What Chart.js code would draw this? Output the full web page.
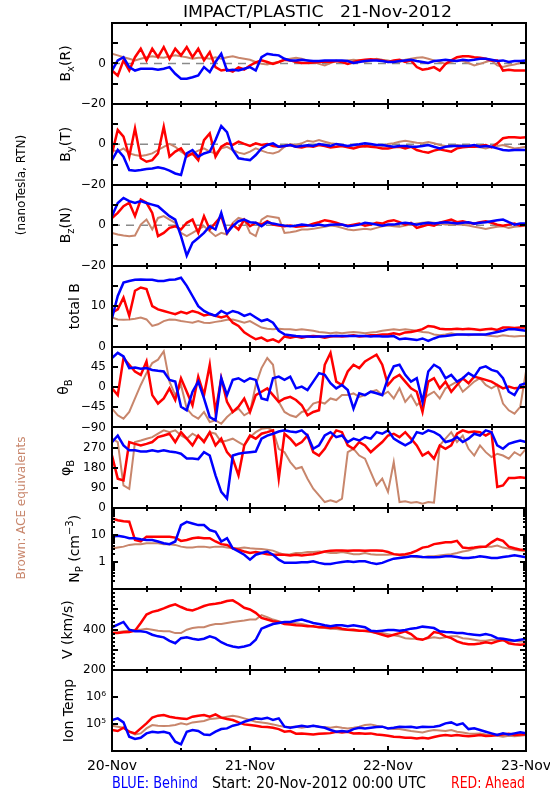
<!DOCTYPE html>
<html><head><meta charset="utf-8">
<script src="https://cdn.jsdelivr.net/npm/chart.js@4.4.1/dist/chart.umd.min.js"></script>
<style>html,body{margin:0;padding:0;background:#fff;}canvas{display:block;}</style>
</head><body>
<canvas id="c" width="550" height="800"></canvas>
<script>
// ---------- time axis (hours since 20-Nov-2012 00:00 UTC) ----------
const hours = [0,1,2,3,4,5,6,7,8,9,10,11,12,13,14,15,16,17,18,19,20,21,22,23,24,25,26,27,28,29,30,31,32,33,34,35,36,37,38,39,40,41,42,43,44,45,46,47,48,49,50,51,52,53,54,55,56,57,58,59,60,61,62,63,64,65,66,67,68,69,70,71,72];
const dayTicks = [0,24,48,72];
const dayLabels = ['20-Nov','21-Nov','22-Nov','23-Nov'];

// ---------- tick labels ----------
const bTickValues = [-20,-10,0,10,20];     const bTickLabels = ['\u221220','','0','',''];
const btTickValues = [0,5,10,15,20];       const btTickLabels = ['0','','10','',''];
const thTickValues = [-90,-45,0,45,90];    const thTickLabels = ['\u221290','\u221245','0','45',''];
const phTickValues = [0,90,180,270,360];   const phTickLabels = ['0','90','180','270',''];
const npTickValues = [0.1,1,10,100];       const npTickLabels = ['','1','10',''];
const vTickValues = [200,300,400,500,600]; const vTickLabels = ['200','','400','',''];
const tTickValues = [1e4,1e5,1e6,1e7];     const tTickLabels = ['','10\u2075','10\u2076',''];

// ---------- Bx (R) nT ----------
const bxBlue = [-3.5,1.5,3.1,-1.8,-3.5,-2.6,-2.6,-2.6,-3.1,-2.6,
 -1.8,-5.1,-7.6,-7.6,-6.8,-5.9,-1.8,-4.3,0.7,4.8,
 -3.5,-3.1,-3.5,-2.6,-1.8,-3.5,3.1,4.8,4.3,4.0,
 2.3,1.5,1.5,1.8,1.5,1.2,1.2,1.5,1.5,1.5,
 1.5,1.2,0.2,0.7,1.2,1.5,1.5,1.2,0.7,0.7,
 1.2,1.5,1.8,1.2,0.7,0.2,1.2,1.5,1.8,1.5,
 1.2,1.8,1.5,1.8,2.3,2.3,1.8,1.2,1.5,0.7,
 1.2,1.2,1.5];
const bxRed = [-3.5,-6.0,1.5,-3.5,3.1,7.3,1.5,7.3,3.1,8.1,
 2.3,7.3,4.0,8.1,3.1,7.3,1.5,5.6,-1.8,-3.5,
 -3.0,-4.0,-2.0,-3.0,-1.0,0.5,1.5,0.7,-0.2,0.7,
 1.8,1.5,0.7,0.2,0.2,0.5,0.7,1.0,0.7,1.2,
 0.7,-0.2,0.7,1.5,1.8,2.1,1.8,1.5,0.7,1.5,
 1.8,0.7,1.5,-1.8,-3.1,-2.6,-1.8,-3.5,-0.2,1.5,
 3.1,3.5,3.5,3.1,2.8,2.3,1.5,1.5,-3.5,-3.1,
 -3.5,-3.5,-3.5];
const bxBrown = [4.8,4.0,3.1,2.3,1.5,2.3,3.1,3.5,3.1,2.8,
 3.5,4.0,3.5,3.1,2.3,2.8,2.8,2.3,3.1,2.3,
 3.1,3.5,2.8,2.3,1.8,0.7,-0.2,-0.5,0.2,0.7,
 1.8,2.3,2.8,2.3,1.5,0.7,-0.2,-1.0,0.2,1.2,
 1.2,1.5,1.8,1.5,0.7,1.2,2.3,1.8,1.5,0.7,
 0.7,1.8,2.3,2.8,3.1,2.3,1.5,0.7,-0.2,0.7,
 1.5,1.2,0.2,-1.0,-0.2,0.7,1.5,-1.0,-1.8,-1.0,
 -0.5,0.2,0.2];

// ---------- By (T) nT ----------
const byBlue = [-7.8,-2.8,-6.1,-12.7,-13.0,-12.7,-12.2,-11.9,-11.4,-11.9,
 -13.0,-14.4,-15.2,-4.5,-2.8,-6.1,-4.5,-3.6,2.1,9.0,
 6.0,-2.8,-6.9,-7.4,-7.8,-5.3,-2.0,-0.3,0.5,-1.2,
 -0.8,-0.3,-1.2,-0.8,-0.5,-0.8,0.2,-0.3,-0.8,0.2,
 -0.3,-0.8,-0.3,0,0.5,0.2,-0.3,-0.3,-0.8,-1.2,
 -0.8,-0.8,-1.2,-1.2,-0.8,-0.3,-1.2,-2.0,-1.2,-0.8,
 -0.8,-0.8,-0.8,-0.3,-1.2,-0.8,-1.2,-2.0,-2.8,-3.1,
 -2.8,-2.8,-2.8];
const byRed = [-4.5,7.1,3.8,-6.1,7.9,-6.9,-8.6,-7.8,-4.5,8.7,
 -6.1,-3.6,-2.0,-6.1,-4.5,-7.8,2.1,5.4,-6.1,-1.2,
 0.5,-0.3,1.3,0.2,-0.8,0.5,-0.3,0.2,-0.8,-1.2,
 -0.8,-0.3,-1.2,-1.5,-0.8,-1.2,-0.3,-0.8,-1.5,-1.2,
 -0.8,-1.5,-2.0,-1.2,-0.8,-1.2,-1.5,-2.0,-2.0,-1.5,
 -1.2,-2.0,-1.2,-2.8,-3.6,-4.1,-3.1,-2.5,-3.1,-3.6,
 -2.0,-1.5,-1.2,-1.2,-0.8,-0.3,-1.5,0.5,3.0,3.5,
 3.5,3.3,3.5];
const byBrown = [-2.8,-3.6,-2.0,-4.5,-5.3,-5.8,-5.3,-4.5,-2.8,-1.2,
 0.2,-1.2,-3.6,-5.3,-4.5,-3.1,-2.0,-3.6,-4.5,-2.0,
 -1.2,-2.8,-4.1,-4.8,-3.6,-2.0,-3.1,-4.1,-4.5,-3.6,
 -1.2,0.2,-0.3,0.5,1.8,1.3,2.1,1.3,0.5,0.2,
 -0.8,-1.2,-0.5,-0.8,-1.2,-0.5,-0.3,-0.8,0.2,0.5,
 1.3,1.8,1.3,0.8,0.5,1.2,0.5,-0.3,-0.8,-1.2,
 -0.3,-0.8,-0.3,-1.2,-1.5,-2.0,-1.2,-0.8,-0.3,-1.2,
 -2.0,-1.7,-1.2];

// ---------- Bz (N) nT ----------
const bzBlue = [4.5,11.0,13.5,11.9,11.0,11.9,11.0,10.2,9.4,6.9,
 4.5,2.8,-5.4,-15.0,-8.7,-6.3,-3.8,-0.5,-2.1,6.1,
 -3.8,-0.5,2.0,2.8,1.5,1.2,-0.5,1.5,0.8,0.3,
 -0.2,-0.5,-0.2,0.3,0,-0.2,0.3,-0.2,0.2,0.3,
 0.3,-0.5,-0.2,0.3,1.2,0.8,0.3,-0.2,0.3,0.3,
 0.8,1.2,0.8,0.3,0.8,1.2,0.8,1.2,1.5,1.2,
 0.8,1.2,1.5,0.8,1.2,1.5,2.0,2.5,2.8,1.5,
 0.3,0.8,0.8];
const bzRed = [3.6,6.1,9.4,11.1,4.5,12.7,11.1,6.1,-5.4,-3.8,
 -1.3,-0.5,-2.1,1.2,2.8,-3.8,4.5,-2.1,1.2,4.5,
 -3.8,0.3,-2.1,2.8,-0.5,1.2,0.3,2.0,0.3,-0.2,
 -0.5,-0.2,-0.8,-0.5,-0.2,0.8,1.5,2.5,2.0,1.2,
 0.3,-0.2,0.3,0.8,-0.2,0.3,1.2,0.8,2.0,2.5,
 1.5,0.3,1.2,-1.3,-0.5,0.3,-0.2,1.2,2.0,2.8,
 1.5,2.0,1.2,0.8,1.5,2.0,1.2,0.3,-0.2,0.3,
 0.8,-0.2,0.3];
const bzBrown = [-3.8,-4.6,-5.1,-5.4,-5.1,0.3,2.8,-2.1,3.6,4.5,
 2.8,1.2,-3.8,-5.4,-3.8,-2.1,-0.5,-3.0,-5.4,-3.8,
 -4.6,1.2,3.6,2.8,-3.8,-5.4,2.8,4.5,4.1,3.6,
 -3.8,-3.5,-3.0,-2.1,-2.1,-1.8,-1.3,-0.8,-0.2,-0.5,
 -1.3,-2.1,-2.5,-2.1,-1.8,-2.1,-1.3,-0.5,-0.2,-0.5,
 -0.8,-0.2,0.3,0.8,1.2,1.5,1.2,0.8,0.3,0.5,
 0.3,0.2,-0.2,-0.8,-1.3,-1.8,-1.3,-0.8,-0.5,-1.3,
 -0.8,-0.5,-0.2];

// ---------- total B nT ----------
const btBlue = [7.0,12.5,15.8,16.2,16.5,16.6,16.5,16.5,16.2,16.2,
 16.5,16.6,17.0,15.0,12.5,10.0,8.8,8.1,7.6,8.8,
 8.1,8.8,8.4,7.6,8.1,7.2,6.3,6.7,5.9,3.9,
 3.0,2.8,2.6,2.5,2.5,2.4,2.5,2.5,2.6,2.6,
 2.6,2.6,2.6,2.6,2.6,2.5,2.6,2.5,2.5,2.6,
 1.8,2.0,1.8,1.6,2.0,1.4,2.0,2.5,2.6,2.8,
 3.0,3.0,3.0,3.0,3.0,3.0,3.3,3.6,3.9,4.3,
 4.3,4.1,3.9];
const btRed = [8.4,9.2,12.1,7.6,13.8,14.6,14.2,10.0,9.2,8.8,
 8.4,8.0,8.6,8.2,8.8,8.4,7.7,8.0,7.6,7.2,
 7.6,5.9,5.1,3.5,2.6,1.8,2.2,1.4,1.8,1.1,
 2.5,2.2,2.5,2.2,2.5,2.6,2.5,2.2,2.5,2.6,
 2.5,2.6,2.8,2.5,2.6,2.8,2.8,3.0,3.0,3.3,
 3.0,3.5,3.6,3.9,4.3,5.1,4.9,4.4,4.3,4.3,
 4.4,4.3,4.4,4.3,4.1,4.3,4.4,4.1,4.7,4.7,
 4.6,4.7,4.7];
const btBrown = [7.2,6.7,6.6,6.7,6.9,7.2,6.7,5.1,5.5,6.3,
 6.7,6.6,6.3,6.1,5.9,6.3,5.9,5.8,6.1,6.3,
 6.6,6.7,6.3,5.9,6.3,5.5,4.7,4.4,4.3,4.4,
 4.3,4.3,4.1,4.3,4.1,3.9,3.6,3.5,3.3,3.5,
 3.3,3.5,3.6,3.5,3.3,3.5,3.6,3.9,4.1,4.3,
 4.1,4.3,4.1,3.9,3.6,3.5,3.0,2.8,3.0,3.3,
 3.0,3.0,2.8,2.9,3.0,2.8,2.6,2.5,2.8,2.6,
 2.5,2.6,2.6];

// ---------- theta_B deg ----------
const thBlue = [64.5,76,68,42,43.5,40.5,42,38,36,34.5,
 15.8,12,-44,-52,-10.5,12,-25.5,-67,-74,19.5,
 -18,15.8,19.5,12,19.5,15.8,-25.5,-29,19.5,23,
 15.8,23,-3,0.8,-6.8,12,30.8,27,8.3,-3,
 4.5,-6.8,-48,-14,-18,-10.5,-14,-18,19.5,45.8,
 49.5,27,12,19.5,-33,34.5,49.5,42,19.5,27,
 12,19.5,30.8,23,42,45.8,38,34.5,19.5,-10.5,
 -18,4.5,8.3];
const thRed = [-3,-18,64.5,49.5,34.5,27,57,-18,-36.8,-25.5,
 -3,-29,19.5,-10.5,-40.5,23,-18,49.5,-55.5,19.5,
 -33,-55.5,-44,-25.5,-55.5,-18,-10.5,-3,-18,-33,
 -25.5,-21.8,-29,-40.5,-63,-55.5,-51.8,49.5,75.8,12,
 4.5,34.5,49.5,42,57,64.5,72,49.5,4.5,19.5,
 27,12,-3,-10.5,-55.5,12,19.5,-3,12,-10.5,
 4.5,19.5,8.3,23,19.5,15.8,12,4.5,-3,0.8,
 -3,-1.5,0.8];
const thBrown = [-48,-63,-70.5,-55.5,-25.5,4.5,30.8,53.3,60.8,79.5,
 12,-18,4.5,-48,-63,-70.5,-55.5,-78,-74.3,-81.8,
 -66.8,-55.5,-48,-63,-55.5,4.5,42,64.5,49.5,-33,
 -55.5,-63,-66.8,-55.5,-51.8,-36.8,-33,-36.8,-25.5,-29,
 -18,-18,-14.3,-21.8,-18,-10.5,-6.8,-18,-10.5,-25.5,
 -3,-33,-18,-40.5,-29,-18,-10.5,-25.5,-3,4.5,
 12,-10.5,0.8,12,19.5,4.5,-3,4.5,-36.8,-51.8,
 -59.3,-44,34.5];

// ---------- phi_B deg ----------
const phBlue = [295,324,280,258,258,253,253,258,253,258,
 253,250,243,222,222,219,250,235,147,73,
 43,235,243,247,250,253,310,324,332,342,
 347,342,339,347,324,265,280,324,339,317,
 324,295,310,302,317,310,339,332,347,310,
 295,280,295,339,332,347,339,324,295,302,
 317,295,310,332,324,347,339,280,265,287,
 295,302,295];
const phRed = [235,132,124,295,287,280,287,295,317,324,
 332,295,339,310,280,324,295,339,280,310,
 250,221,147,280,324,310,332,339,347,132,
 332,310,280,295,324,250,235,265,310,347,
 339,280,265,295,280,250,273,295,324,332,
 317,339,310,280,235,250,221,280,265,280,
 332,347,339,342,339,324,339,95,102,135,
 135,138,135];
const phBrown = [310,295,102,87,295,302,310,317,332,347,
 339,347,324,310,332,317,302,339,332,295,
 302,310,295,280,317,339,354,358,347,265,
 250,206,176,184,132,87,58,28,36,28,
 43,250,265,235,221,161,102,132,73,206,
 28,31,25,28,21,28,25,280,310,339,
 295,324,265,235,280,250,228,243,235,221,
 250,235,265];

// ---------- N_P cm^-3 ----------
const npBlue = [8.9,9.7,8.9,7.8,7.8,7.1,6.7,6.7,5.9,5.1,
 4.7,5.9,23.9,31.6,27.5,23.9,23.9,15.7,13.6,5.9,
 7.8,3.3,2.5,1.9,1.25,1.9,2.2,2.5,1.9,1.25,
 0.95,0.95,0.95,1.0,1.0,1.09,0.95,0.87,0.87,0.95,
 1.03,1.09,1.03,1.09,1.09,0.95,0.87,0.95,1.15,1.36,
 1.44,1.52,1.66,1.66,1.57,1.52,1.52,1.57,1.66,1.66,
 1.57,1.44,1.44,1.52,1.66,1.57,1.44,1.44,1.57,1.66,
 1.80,1.66,1.52];
const npRed = [42,36,33,32,6.7,5.9,8.9,8.9,8.9,8.9,
 8.9,8.2,6.2,6.7,7.8,8.2,7.8,7.8,5.9,4.7,
 4.4,3.3,2.9,2.5,2.2,2.4,2.2,2.0,1.9,1.9,
 1.9,1.8,1.9,1.8,1.9,2.0,2.2,2.5,2.7,2.75,
 2.75,2.7,2.75,2.75,2.7,2.75,2.75,2.7,2.4,2.0,
 1.9,2.0,2.2,2.7,3.5,3.8,4.7,5.1,5.5,5.5,
 6.2,3.5,3.3,3.5,3.8,3.8,5.5,7.3,6.2,3.8,
 3.3,2.9,2.9];
const npBrown = [3.2,3.5,3.8,4.4,4.7,4.7,5.1,5.1,5.1,4.7,
 4.7,4.4,3.8,3.5,3.5,3.8,3.8,3.5,3.8,3.8,
 3.5,3.3,3.3,3.5,3.3,3.2,3.1,2.9,2.7,2.2,
 1.9,2.0,2.2,2.2,2.4,2.4,2.5,2.4,2.2,2.2,
 2.4,2.2,2.0,2.0,2.2,2.0,1.9,1.9,1.9,2.0,
 1.8,1.66,1.66,1.52,1.52,1.66,1.66,1.8,1.9,2.0,
 2.2,2.5,2.7,3.2,3.5,3.8,3.8,4.2,3.5,3.2,
 2.9,2.7,2.5];

// ---------- V km/s ----------
const vBlue = [412,425,438,400,392,392,388,375,367,362,
 345,333,358,362,355,350,355,367,358,338,
 325,317,312,317,325,350,405,417,428,433,
 438,438,445,450,442,433,428,422,417,422,
 422,417,422,417,412,395,392,395,398,398,
 395,398,405,408,415,412,408,392,388,387,
 383,383,378,375,372,378,372,358,355,350,
 345,350,355];
const vRed = [383,383,387,388,395,433,475,488,495,505,
 517,525,512,500,495,505,517,525,528,533,
 542,545,528,508,500,483,458,450,442,438,
 428,425,422,420,417,417,412,412,408,412,
 405,400,400,395,395,392,383,375,367,375,
 383,392,378,355,350,362,388,383,367,358,
 342,333,328,328,332,338,333,342,350,333,
 328,325,328];
const vBrown = [383,387,392,395,400,400,405,400,395,392,
 392,383,383,400,408,412,412,422,428,428,
 433,438,442,445,450,450,472,462,450,442,
 433,433,432,428,422,415,412,408,405,403,
 400,398,395,395,392,388,383,383,378,372,
 367,358,355,355,353,358,362,358,362,367,
 367,358,355,350,345,345,350,348,345,342,
 345,342,342];

// ---------- Ion Temp K ----------
const tBlue = [141000,162000,115000,34000,28000,31000,45000,52000,49000,52000,
 45000,22000,17700,52000,60000,55000,41000,39000,52000,65000,
 69000,87000,97000,122000,141000,162000,155000,172000,141000,162000,
 80000,73000,80000,87000,80000,87000,80000,73000,60000,52000,
 55000,52000,65000,73000,69000,73000,77000,80000,69000,73000,
 80000,77000,80000,73000,80000,77000,80000,87000,106000,115000,
 92000,106000,65000,69000,60000,52000,45000,39000,45000,41000,
 45000,49000,45000];
const tRed = [60000,55000,73000,52000,45000,69000,106000,172000,204000,215000,
 187000,172000,162000,153000,187000,204000,215000,187000,228000,172000,
 153000,141000,115000,97000,92000,87000,80000,77000,73000,65000,
 52000,55000,44000,45000,43000,41000,44000,45000,46000,52000,
 49000,52000,45000,46000,44000,45000,41000,39000,37000,34000,
 33000,31000,31000,29000,31000,29000,33000,37000,39000,37000,
 39000,37000,35000,37000,39000,36000,37000,39000,41000,44000,
 39000,41000,41000];
const tBrown = [87000,80000,73000,52000,41000,45000,69000,92000,87000,84000,
 87000,92000,106000,97000,115000,122000,129000,153000,162000,172000,
 187000,204000,187000,162000,141000,122000,115000,106000,97000,87000,
 80000,77000,80000,73000,80000,87000,80000,77000,73000,80000,
 73000,69000,73000,80000,92000,97000,87000,80000,69000,65000,
 65000,60000,55000,52000,49000,55000,60000,58000,55000,60000,
 52000,49000,45000,44000,45000,41000,39000,37000,34000,37000,
 35000,37000,39000];

// ---------- styling ----------
const BLUE = '#0000ff', RED = '#ff0000', BROWN = '#c8866c';
const FONT = '"DejaVu Sans", sans-serif';

const panels = [
  {id:'yBx', type:'linear', min:-20, max:20, tv:bTickValues, tl:bTickLabels, minor:null, blue:bxBlue, red:bxRed, brown:bxBrown, zero:true, title:[['B'],['x','sub'],['(R)']], tx:70},
  {id:'yBy', type:'linear', min:-20, max:20, tv:bTickValues, tl:bTickLabels, minor:null, blue:byBlue, red:byRed, brown:byBrown, zero:true, title:[['B'],['y','sub'],['(T)']], tx:70},
  {id:'yBz', type:'linear', min:-20, max:20, tv:bTickValues, tl:bTickLabels, minor:null, blue:bzBlue, red:bzRed, brown:bzBrown, zero:true, title:[['B'],['z','sub'],['(N)']], tx:70},
  {id:'yBt', type:'linear', min:0, max:20, tv:btTickValues, tl:btTickLabels, minor:null, blue:btBlue, red:btRed, brown:btBrown, zero:false, title:[['total B']], tx:79},
  {id:'yTh', type:'linear', min:-90, max:90, tv:thTickValues, tl:thTickLabels, minor:null, blue:thBlue, red:thRed, brown:thBrown, zero:false, title:[['\u03B8'],['B','sub']], tx:68},
  {id:'yPh', type:'linear', min:0, max:360, tv:phTickValues, tl:phTickLabels, minor:null, blue:phBlue, red:phRed, brown:phBrown, zero:false, title:[['\u03C6'],['B','sub']], tx:70},
  {id:'yNp', type:'logarithmic', min:0.1, max:100, tv:npTickValues, tl:npTickLabels, minor:'log', blue:npBlue, red:npRed, brown:npBrown, zero:false, title:[['N'],['P','sub'],[' (cm'],['\u22123','sup'],[')']], tx:79},
  {id:'yV', type:'linear', min:200, max:600, tv:vTickValues, tl:vTickLabels, minor:20, blue:vBlue, red:vRed, brown:vBrown, zero:false, title:[['V (km/s)']], tx:72},
  {id:'yT', type:'logarithmic', min:1e4, max:1e7, tv:tTickValues, tl:tTickLabels, minor:null, blue:tBlue, red:tRed, brown:tBrown, zero:false, title:[['Ion Temp']], tx:73}
];

const datasets = [];
panels.forEach(p => {
  if (p.zero) {
    datasets.push({data:[{x:hours[0],y:0},{x:hours[hours.length-1],y:0}], xAxisID:'x', yAxisID:p.id,
      borderColor:'#8a8a8a', borderWidth:1.5, borderDash:[8,6], pointRadius:0, order:10});
  }
  [[p.brown,BROWN,3,2],[p.red,RED,2,2.5],[p.blue,BLUE,1,2.5]].forEach(([arr,c,o,w]) => {
    datasets.push({data: hours.map((h,i)=>({x:h, y:arr[i]})), xAxisID:'x', yAxisID:p.id,
      borderColor:c, backgroundColor:c, borderWidth:w, pointRadius:0, tension:0, order:o});
  });
});

const scales = {
  x: {type:'linear', position:'bottom', min:0, max:72,
    afterBuildTicks: s => { s.ticks = dayTicks.map(v => ({value:v})); },
    afterFit: s => { s.height = 49; s.paddingLeft = 0; s.paddingRight = 0; },
    ticks: {callback:(v,i) => dayLabels[i], font:{family:FONT, size:14}, color:'#000', maxRotation:0, minRotation:0, autoSkip:false, padding:7},
    grid: {display:false, drawTicks:false}, border: {display:false}}
};
panels.forEach((p,k) => {
  scales[p.id] = {type:p.type, position:'left', stack:'panels', stackWeight:1, weight:panels.length - k,
    min:p.min, max:p.max, offset:false,
    afterBuildTicks: s => { s.ticks = p.tv.map(v => ({value:v})); },
    afterFit: s => { s.width = 112; s.paddingTop = 0; s.paddingBottom = 0; },
    ticks: {callback:(v,i) => p.tl[i], font:{family:FONT, size:12}, color:'#000', autoSkip:false, padding:6},
    grid: {display:false, drawTicks:false}, border: {display:false}};
});

function drawRich(ctx, segs, size, color) {
  const parts = segs.map(([t,k]) => {
    const fs = k ? Math.round(size*0.72) : size;
    ctx.font = fs + 'px ' + FONT;
    return {t, k, fs, w: ctx.measureText(t).width};
  });
  const total = parts.reduce((a,b) => a + b.w, 0);
  let x = -total/2;
  ctx.fillStyle = color; ctx.textAlign = 'left'; ctx.textBaseline = 'alphabetic';
  parts.forEach(pt => {
    ctx.font = pt.fs + 'px ' + FONT;
    const dy = pt.k === 'sub' ? size*0.32 : pt.k === 'sup' ? -size*0.45 : 0;
    ctx.fillText(pt.t, x, dy);
    x += pt.w;
  });
}
function rotText(ctx, segs, xb, yc, size, color) {
  ctx.save(); ctx.translate(xb, yc); ctx.rotate(-Math.PI/2);
  drawRich(ctx, segs, size, color); ctx.restore();
}
function fitText(ctx, text, left, base, width, size, color) {
  ctx.save(); ctx.font = size + 'px ' + FONT; ctx.fillStyle = color;
  ctx.textAlign = 'left'; ctx.textBaseline = 'alphabetic';
  const w = ctx.measureText(text).width;
  ctx.translate(left, base); ctx.scale(width / w, 1); ctx.fillText(text, 0, 0);
  ctx.restore();
}

const framePlugin = {
  id: 'frame',
  afterDraw(chart) {
    const ctx = chart.ctx, ca = chart.chartArea, xs = chart.scales.x;
    const L = Math.round(ca.left), R = Math.round(ca.right);
    ctx.save();
    ctx.strokeStyle = '#000'; ctx.lineWidth = 2; ctx.lineCap = 'butt';
    const seg = (x1,y1,x2,y2) => { ctx.beginPath(); ctx.moveTo(x1,y1); ctx.lineTo(x2,y2); ctx.stroke(); };
    panels.forEach(p => {
      const s = chart.scales[p.id];
      const top = Math.round(s.top), bot = Math.round(s.bottom);
      for (let h = 6; h < 72; h += 6) {
        const x = Math.round(xs.getPixelForValue(h));
        const len = h % 24 === 0 ? 5 : 3;
        seg(x, top, x, top + len); seg(x, bot, x, bot - len);
      }
      p.tv.forEach(v => { const y = Math.round(s.getPixelForValue(v)); seg(L, y, L + 6, y); seg(R, y, R - 6, y); });
      if (p.minor === 'log') {
        for (let d = p.min; d < p.max; d *= 10) for (let m = 2; m <= 9; m++) {
          const y = Math.round(s.getPixelForValue(d*m)); seg(L, y, L + 3, y); seg(R, y, R - 3, y);
        }
      } else if (typeof p.minor === 'number') {
        for (let v = p.min + p.minor; v < p.max; v += p.minor) {
          const y = Math.round(s.getPixelForValue(v)); seg(L, y, L + 3, y); seg(R, y, R - 3, y);
        }
      }
      ctx.strokeRect(L, top, R - L, bot - top);
      rotText(ctx, p.title, p.tx, (s.top + s.bottom)/2, 14, '#000');
    });
    rotText(ctx, [['(nanoTesla, RTN)']], 25, 185, 12, '#000');
    rotText(ctx, [['Brown: ACE equivalents']], 25, 508, 12, BROWN);
    fitText(ctx, 'IMPACT/PLASTIC   21-Nov-2012', 183, 17, 269, 16, '#000');
    fitText(ctx, 'BLUE: Behind', 112, 788, 86, 15, BLUE);
    fitText(ctx, 'Start: 20-Nov-2012 00:00 UTC', 212, 788, 214, 15, '#000');
    fitText(ctx, 'RED: Ahead', 451, 788, 74, 15, RED);
    ctx.restore();
  }
};

new Chart(document.getElementById('c'), {
  type: 'line',
  data: {datasets},
  options: {
    responsive: false, animation: false, events: [],
    layout: {padding: {left:0, right:24, top:23, bottom:0}},
    plugins: {legend:{display:false}, title:{display:false}, tooltip:{enabled:false}},
    elements: {point:{radius:0}, line:{tension:0}},
    scales
  },
  plugins: [framePlugin]
});
</script>
</body></html>
